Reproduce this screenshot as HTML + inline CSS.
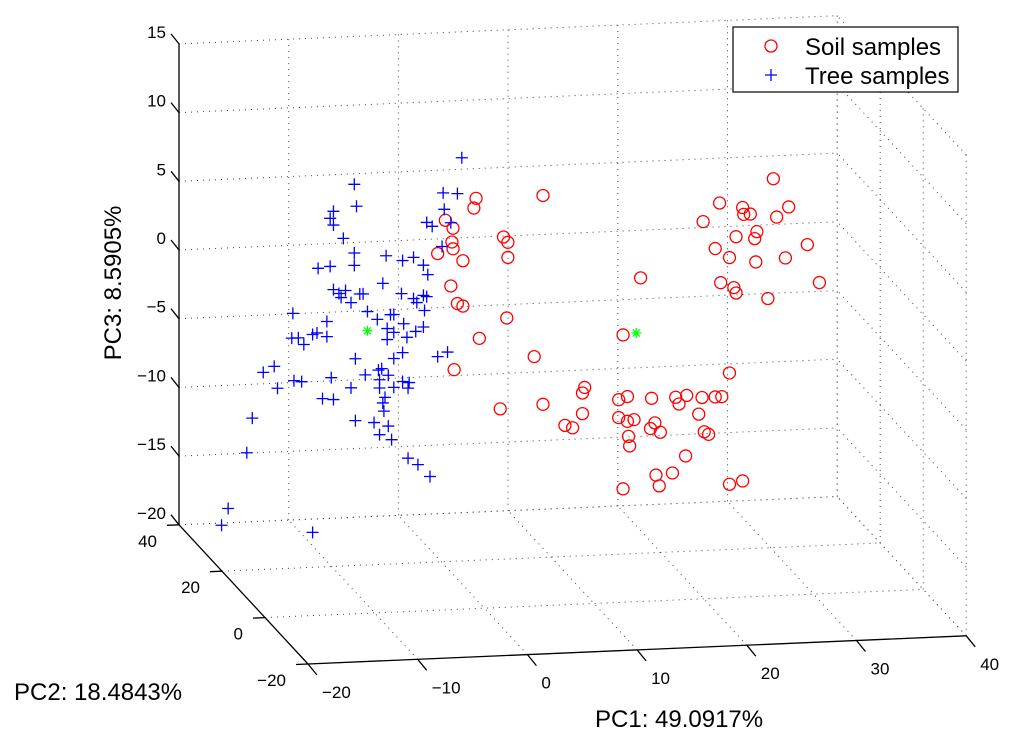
<!DOCTYPE html>
<html><head><meta charset="utf-8"><style>
html,body{margin:0;padding:0;background:#fff;}
svg{display:block;font-family:"Liberation Sans",Arial,sans-serif;}
</style></head><body>
<svg id="chart" width="1024" height="753" viewBox="0 0 1024 753" xmlns="http://www.w3.org/2000/svg">
<g id="grid"></g>
<g id="axes"></g>
<g id="marks"></g>
<text x="113" y="283" font-size="24" text-anchor="middle" transform="rotate(-90 113 283)" dy="8">PC3: 8.5905%</text>
<text x="14" y="700" font-size="24">PC2: 18.4843%</text>
<text x="595" y="727" font-size="24">PC1: 49.0917%</text>
<g>
<rect x="733" y="27" width="225" height="65" fill="#fff" stroke="#000" stroke-width="1.2"/>
<circle cx="771" cy="46" r="6" fill="none" stroke="#f00" stroke-width="1.3"/>
<text x="805" y="55" font-size="24">Soil samples</text>
<path d="M765 75H777M771 69V81" stroke="#00f" stroke-width="1.3"/>
<text x="805" y="84" font-size="24">Tree samples</text>
</g>
</svg>
<script>
const xTicks=[-20,-10,0,10,20,30,40];
const yTicks=[-20,0,20,40];
const zTicks=[-20,-15,-10,-5,0,5,10,15];
const treePC1=[-0.1,-9.9,-9.7,-1.8,-0.5,-11.8,-12.1,-11.8,-1.7,-3.3,-2.8,-1.1,-10.9,-9.9,-9.9,-13.2,-12.1,-7.0,-5.5,-4.5,-1.9,-3.6,-3.2,-7.3,-11.8,-11.3,-10.7,-11.1,-10.2,-9.4,-9.1,-5.6,-4.5,-4.2,-3.6,-3.3,-3.5,-8.7,-7.8,-6.6,-6.3,-15.5,-12.4,-5.4,-3.6,-6.9,-6.3,-4.3,-6.9,-5.1,-15.6,-15.0,-14.5,-13.7,-13.3,-12.4,-5.5,-6.3,-9.8,-7.4,-8.9,-7.7,-6.8,-7.6,-7.6,-12.0,-10.2,-6.3,-5.5,-4.9,-5.0,-2.3,-1.4,-17.2,-18.2,-16.9,-15.4,-14.7,-12.8,-11.8,-7.1,-7.3,-7.2,-9.8,-8.1,-6.8,-7.6,-6.5,-19.2,-19.7,-5.0,-4.1,-3.0,-21.4,-22.0,-13.7];
const treePC3=[11.1,9.5,7.9,8.6,8.5,7.6,7.1,6.6,7.4,6.5,6.2,6.4,5.6,4.5,3.6,3.5,3.6,4.2,3.8,4.0,4.7,3.4,2.7,2.2,1.9,1.6,1.8,1.3,0.9,1.5,1.5,1.4,1.0,0.7,1.2,1.1,0.1,0.2,-0.4,-0.1,-0.1,0.3,-0.4,-0.8,-1.1,-1.1,-1.4,-1.4,-1.9,-1.8,-1.5,-1.5,-2.0,-1.3,-1.2,-1.5,-2.9,-3.3,-3.2,-4.0,-4.4,-4.1,-4.5,-4.8,-5.4,-4.5,-5.3,-5.4,-5.0,-5.1,-5.5,-3.3,-3.0,-3.5,-3.9,-5.1,-4.6,-4.7,-6.0,-6.1,-6.1,-6.5,-7.1,-7.7,-7.9,-8.2,-8.8,-9.2,-7.2,-9.7,-10.6,-11.1,-12.0,-13.7,-14.9,-15.7];
const treePC2=treePC1.map(()=>10);
const soilPC1=[1.2,1.0,7.3,-1.6,-0.9,3.7,4.1,4.1,-1.0,-0.9,-2.3,0.0,16.2,-1.1,-0.5,0.0,4.0,1.5,14.6,6.5,-0.8,3.4,7.3,10.9,11.1,10.9,9.3,10.0,14.2,15.0,14.2,15.0,15.6,15.1,15.2,14.6,17.2,17.1,17.5,18.0,17.6,17.9,19.1,20.3,19.4,19.7,20.4,21.8,21.5,22.0,22.4,23.0,23.6,24.3,24.3,25.5,28.3,23.4,25.5,26.2,25.6,29.7,21.9,28.6,24.9,26.8,26.6,31.4,23.0,24.3,26.7,29.4,23.5,24.7,24.9,27.8,32.5];
const soilPC3=[8.1,7.4,8.1,6.6,6.0,5.2,4.8,3.7,5.0,4.5,4.2,3.6,1.8,1.8,0.5,0.3,-0.7,-2.1,-2.3,-3.6,-4.3,-7.3,-7.1,-6.4,-6.0,-7.9,-8.7,-8.9,-7.0,-6.8,-8.3,-8.6,-8.5,-9.7,-10.4,-13.5,-7.0,-9.2,-8.8,-9.5,-12.6,-13.4,-12.5,-11.3,-7.0,-7.5,-6.9,-7.1,-8.3,-9.6,-9.8,-7.1,-7.1,-5.4,-13.5,-13.3,8.6,7.0,6.6,6.1,6.1,6.5,5.7,5.8,4.5,4.8,4.3,3.7,3.7,3.0,2.6,2.8,1.2,0.8,0.4,-0.1,0.9];
const soilPC2=soilPC1.map(()=>10);
const centroidPC1=[-8.7,15.8];
const centroidPC2=[10,10];
const centroidPC3=[-1.2,-2.2];

const NS="http://www.w3.org/2000/svg";
function P(x,y,z){return [308+(x+20)*10.97-(y+20)*2.15, 664-(x+20)*0.47-(y+20)*2.32-(z+20)*13.74];}
function mk(tag,attrs,parent){const e=document.createElementNS(NS,tag);for(const k in attrs)e.setAttribute(k,attrs[k]);parent.appendChild(e);return e;}
const grid=document.getElementById('grid'),axes=document.getElementById('axes'),marks=document.getElementById('marks');
const gs={stroke:'#444','stroke-width':1,'stroke-dasharray':'1 5',fill:'none'};
function gl(a,b){const e=mk('line',Object.assign({x1:a[0],y1:a[1],x2:b[0],y2:b[1]},gs),grid);

}
const X0=-20,X1=40,Y0=-20,Y1=40,Z0=-20,Z1=15;
xTicks.forEach(x=>{gl(P(x,Y1,Z0),P(x,Y1,Z1));gl(P(x,Y0,Z0),P(x,Y1,Z0));});
zTicks.forEach(z=>{gl(P(X0,Y1,z),P(X1,Y1,z));gl(P(X1,Y0,z),P(X1,Y1,z));});
yTicks.forEach(y=>{gl(P(X1,y,Z0),P(X1,y,Z1));gl(P(X0,y,Z0),P(X1,y,Z0));});
function al(a,b,name){const e=mk('line',{x1:a[0],y1:a[1],x2:b[0],y2:b[1],stroke:'#000','stroke-width':1.3},axes);

}
al(P(X0,Y1,Z0),P(X0,Y1,Z1),'z-axis-line');
al(P(X0,Y1,Z0),P(X0,Y0,Z0),'y-axis-line');
al(P(X0,Y0,Z0),P(X1,Y0,Z0),'x-axis-line');
function lab(t,x,y,anchor,name){const e=mk('text',{x:x,y:y,'font-size':17,'text-anchor':anchor},axes);e.textContent=t;

}
const fmt=v=>v<0?'\u2212'+(-v):String(v);
zTicks.forEach(z=>{const p=P(X0,Y1,z);al(p,[p[0]-8,p[1]-10],'z-tick');lab(fmt(z),p[0]-13,p[1]-6,'end','z-tick-label');});
yTicks.forEach(y=>{const p=P(X0,y,Z0);al(p,[p[0]-12,p[1]+0.5],'y-tick');lab(fmt(y),p[0]-22,p[1]+22,'end','y-tick-label');});
xTicks.forEach(x=>{const p=P(x,Y0,Z0);al(p,[p[0]+9,p[1]+11],'x-tick');lab(fmt(x),p[0]+14,p[1]+34,'start','x-tick-label');});
soilPC1.forEach((v,i)=>{const p=P(v,soilPC2[i],soilPC3[i]);
const e=mk('circle',{cx:p[0],cy:p[1],r:6,fill:'none',stroke:'#f00','stroke-width':1.3},marks);

});
treePC1.forEach((v,i)=>{const p=P(v,treePC2[i],treePC3[i]);
const e=mk('path',{d:`M${p[0]-6} ${p[1]}H${p[0]+6}M${p[0]} ${p[1]-6}V${p[1]+6}`,stroke:'#00f','stroke-width':1.3},marks);

});
centroidPC1.forEach((v,i)=>{const p=P(v,centroidPC2[i],centroidPC3[i]);
const e=mk('path',{d:`M${p[0]-5} ${p[1]}H${p[0]+5}M${p[0]} ${p[1]-5}V${p[1]+5}M${p[0]-3.5} ${p[1]-3.5}L${p[0]+3.5} ${p[1]+3.5}M${p[0]-3.5} ${p[1]+3.5}L${p[0]+3.5} ${p[1]-3.5}`,stroke:'#0f0','stroke-width':1.3},marks);

});
</script>
</body></html>
